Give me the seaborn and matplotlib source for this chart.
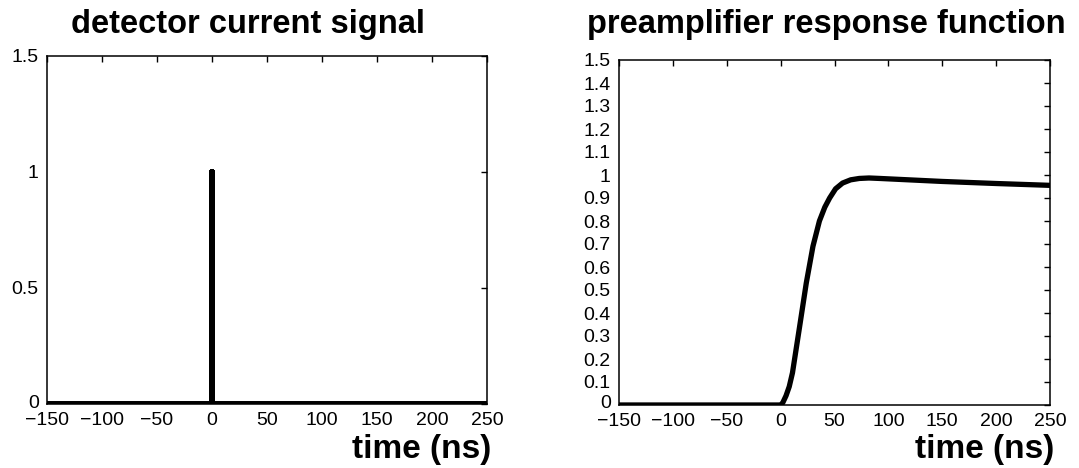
import matplotlib
matplotlib.use("Agg")
import matplotlib.pyplot as plt
import matplotlib.transforms as mtransforms
import numpy as np
import pandas as pd
import seaborn as sns

# detector current: a narrow unit pulse at t = 0
pulse_time = [-150, 0, 0, 0, 250]
pulse_current = [0, 0, 1, 0, 0]

# preamplifier response sampled along the curve
resp_time = [-150, 0, 2, 5, 8, 11, 17.6, 23.8, 30, 36, 41, 45.5, 51, 57.5, 65,
             73, 82, 92, 150, 200, 250]
resp_value = [0, 0, 0.01, 0.04, 0.08, 0.14, 0.34, 0.53, 0.69, 0.80, 0.86, 0.90,
              0.94, 0.965, 0.979, 0.985, 0.987, 0.985, 0.972, 0.963, 0.955]

x_ticks = [-150, -100, -50, 0, 50, 100, 150, 200, 250]
left_y_ticks = [0, 0.5, 1, 1.5]
right_y_ticks = [round(0.1 * i, 1) for i in range(16)]

sns.set_theme(style="white")
plt.rcParams["font.family"] = ["Liberation Sans", "DejaVu Sans"]
plt.rcParams.update({
    "text.color": "black",
    "axes.labelcolor": "black",
    "axes.edgecolor": "black",
    "axes.linewidth": 1.1,
    "xtick.direction": "in",
    "ytick.direction": "in",
    "xtick.major.size": 4,
    "ytick.major.size": 4,
    "xtick.major.width": 1.0,
    "ytick.major.width": 1.0,
    "xtick.top": True,
    "ytick.right": True,
    "xtick.color": "black",
    "ytick.color": "black",
    "xtick.labelsize": 14,
    "ytick.labelsize": 14,
    "xtick.major.pad": 6,
    "ytick.major.pad": 6,
})

fig = plt.figure(figsize=(10.79, 4.68), dpi=100)
ax1 = fig.add_axes([47 / 1079, 1 - 404 / 468, 440 / 1079, 348 / 468])
ax2 = fig.add_axes([619 / 1079, 1 - 405 / 468, 431 / 1079, 345 / 468])

df_pulse = pd.DataFrame({"time": pulse_time, "current": pulse_current})
df_resp = pd.DataFrame({"time": resp_time, "value": resp_value})

sns.lineplot(data=df_pulse, x="time", y="current", ax=ax1, sort=False,
             estimator=None, color="black", linewidth=4.3,
             solid_capstyle="round", solid_joinstyle="round")
sns.lineplot(data=df_resp, x="time", y="value", ax=ax2, sort=False,
             estimator=None, color="black", linewidth=3.8,
             solid_capstyle="round", solid_joinstyle="round")

# nudge the bottom "0" label up a little so it clears the x tick labels
lift = mtransforms.ScaledTranslation(0, 3 / 100, fig.dpi_scale_trans)

for ax, yt, labels in [
    (ax1, left_y_ticks, ["0", "0.5", "1", "1.5"]),
    (ax2, right_y_ticks, ["0" if v == 0 else ("1" if v == 1 else f"{v:g}") for v in right_y_ticks]),
]:
    ax.set_xlim(-150, 250)
    ax.set_ylim(0, 1.5)
    ax.set_xticks(x_ticks)
    ax.set_xticklabels([f"\u2212{-t}" if t < 0 else str(t) for t in x_ticks])
    ax.set_yticks(yt)
    ax.set_yticklabels(labels)
    ax.set_ylabel("")
    ax.set_xlabel("time (ns)", fontsize=24, fontweight="bold", color="black")
    ax.xaxis.set_label_coords(1.01, -0.13)
    ax.xaxis.label.set_horizontalalignment("right")
    ax.xaxis.label.set_verticalalignment("center")
    for s in ax.spines.values():
        s.set_visible(True)
        s.set_color("black")
    zero_label = ax.get_yticklabels()[0]
    zero_label.set_transform(zero_label.get_transform() + lift)

fig.text(248 / 1079, 1 - 24 / 468, "detector current signal", ha="center", va="center",
         fontsize=23.5, fontweight="bold", color="black")
fig.text(826 / 1079, 1 - 24 / 468, "preamplifier response function", ha="center", va="center",
         fontsize=23.5, fontweight="bold", color="black")

fig.savefig("out.png", dpi=100, facecolor="white")
